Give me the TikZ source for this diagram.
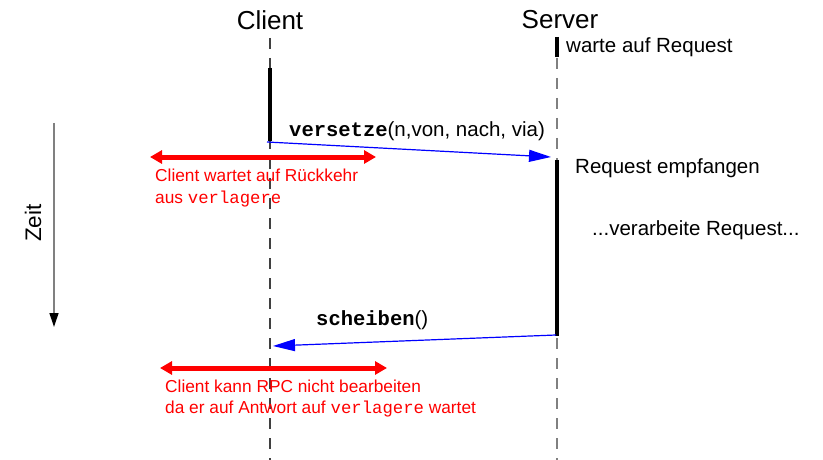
\documentclass[tikz,border=0pt]{standalone}
\usepackage{fontspec}
\setmainfont{Liberation Sans}
\setmonofont{Liberation Mono}
\usetikzlibrary{arrows.meta}
\definecolor{msgblue}{RGB}{0,0,255}
\definecolor{waitred}{RGB}{255,0,0}
\begin{document}
\begin{tikzpicture}[x=1pt,y=-1pt,
  lifeline/.style={gray, line width=1.1pt, dash pattern=on 11pt off 9pt},
  active/.style={black, line width=4pt},
  msg/.style={msgblue, line width=1.2pt, -{Triangle[length=22pt,width=12pt]}},
  waitspan/.style={waitred, line width=5pt, {Triangle[length=12pt,width=13pt]}-{Triangle[length=12pt,width=13pt]}},
  title/.style={font=\fontsize{26}{30}\selectfont, inner sep=0pt},
  body/.style={font=\fontsize{20.5}{24}\selectfont, inner sep=0pt, anchor=west},
  note/.style={font=\fontsize{17.3}{21}\selectfont, text=waitred, inner sep=0pt, anchor=west}]
\useasboundingbox (0,0) rectangle (823,460);

% participants
\node[title] (client) at (270,20) {Client};
\node[title] (server) at (560,20) {Server};

% lifelines
\coordinate (cTop) at (270,38);
\coordinate (cBot) at (270,460);
\coordinate (sTop) at (557,38);
\coordinate (sBot) at (557,460);
\draw[lifeline, gray!50!black] (cTop) -- (cBot);
\draw[lifeline] (sTop) -- (sBot);

% activation bars
\coordinate (cA1) at (270,68);
\coordinate (cA2) at (270,141);
\draw[active] (cA1) -- (cA2);
\coordinate (sW1) at (557,37);
\coordinate (sW2) at (557,57);
\draw[active] (sW1) -- (sW2);
\coordinate (sB1) at (557,160);
\coordinate (sB2) at (557,336);
\draw[active] (sB1) -- (sB2);

% server states
\node[body] (wait) at (566,47) {warte auf Request};
\node[body] (recv) at (575,168) {Request empfangen};
\node[body] (proc) at (592,230) {...verarbeite Request...};

% request message
\coordinate (reqS) at (267,142);
\coordinate (reqE) at (551,157);
\draw[msg] (reqS) -- (reqE);
\node[body] (call) at (289,131) {\texttt{\bfseries versetze}(n,von, nach, via)};

% reply message
\coordinate (repS) at (556,335);
\coordinate (repE) at (273,346);
\draw[msg] (repS) -- (repE);
\node[body] (reply) at (316,320) {\texttt{\bfseries scheiben}()};

% client waiting spans
\coordinate (w1L) at (150,157);
\coordinate (w1R) at (376,157);
\draw[waitspan] (w1L) -- (w1R);
\node[note] (n1a) at (155,175) {Client wartet auf Rückkehr};
\node[note] (n1b) at (155,199) {aus \texttt{verlagere}};

\coordinate (w2L) at (160,368);
\coordinate (w2R) at (387,368);
\draw[waitspan] (w2L) -- (w2R);
\node[note] (n2a) at (165,386) {Client kann RPC nicht bearbeiten};
\node[note] (n2b) at (165,409) {da er auf Antwort auf \texttt{verlagere} wartet};

% time axis
\coordinate (tTop) at (54,123);
\coordinate (tBot) at (54,327);
\draw[gray, line width=1.3pt, -{Triangle[length=14pt,width=9pt,color=black]}] (tTop) -- (tBot);
\node[inner sep=0pt, font=\fontsize{22.5}{26}\selectfont, rotate=90] (zeit) at (33,223) {Zeit};
\end{tikzpicture}
\end{document}
